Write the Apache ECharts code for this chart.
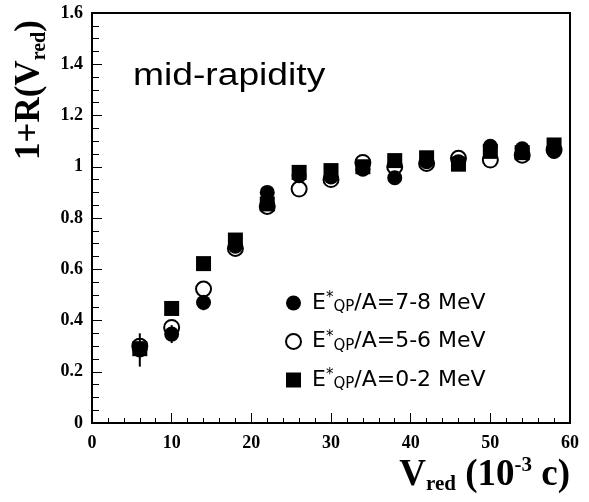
<!DOCTYPE html>
<html>
<head>
<meta charset="utf-8">
<script src="https://cdn.jsdelivr.net/npm/echarts@6/dist/echarts.min.js"></script>
<style>html,body{margin:0;padding:0;background:#fff}#c{width:589px;height:502px}</style>
</head>
<body>
<div id="c"></div>
<script>
// Data
const vred = [6, 10, 14, 18, 22, 26, 30, 34, 38, 42, 46, 50, 54, 58];
const names = ['E*QP/A=7-8 MeV', 'E*QP/A=5-6 MeV', 'E*QP/A=0-2 MeV'];
const e78 = [0.285, 0.347, 0.47, 0.69, 0.90, 0.965, 0.96, 0.99, 0.957, 1.02, 1.02, 1.08, 1.07, 1.06];
const e78err = [0.065, 0.035, 0.03, 0.02, 0.02, 0.02, 0.02, 0.02, 0.02, 0.02, 0.02, 0.02, 0.02, 0.02];
const e56 = [0.30, 0.373, 0.523, 0.681, 0.845, 0.913, 0.95, 1.017, 1.0, 1.013, 1.033, 1.026, 1.045, 1.065];
const e02 = [0.29, 0.447, 0.622, 0.714, 0.855, 0.978, 0.985, 1.0, 1.024, 1.035, 1.01, 1.06, 1.055, 1.085];
const xTicks = [0, 10, 20, 30, 40, 50, 60];
const yTicks = [0, 0.2, 0.4, 0.6, 0.8, 1, 1.2, 1.4, 1.6];

const pairs = a => vred.map((x, i) => [x, a[i]]);
const errData = vred.map((x, i) => [x, e78[i] - e78err[i], e78[i] + e78err[i]]);

const serif = 'Liberation Serif';
const sans = 'Liberation Sans';
const lsans = 'DejaVu Sans';

const chart = echarts.init(document.getElementById('c'), null, {renderer: 'canvas'});
const legendRich = {
  e: {fontFamily: lsans, fontSize: 22, color: '#000', lineHeight: 24},
  sup: {fontFamily: lsans, fontSize: 15, color: '#000', verticalAlign: 'top', lineHeight: 24, padding: [0, 0, 8, 0]},
  sub: {fontFamily: lsans, fontSize: 15, color: '#000', verticalAlign: 'bottom', lineHeight: 24, padding: [12, 0, 0, 0]},
  n: {fontFamily: lsans, fontSize: 22, color: '#000', lineHeight: 24}
};
chart.setOption({
  animation: false,
  backgroundColor: '#fff',
  grid: {left: 92, right: 19, top: 13, bottom: 79, show: true, borderColor: '#000', borderWidth: 2, backgroundColor: 'transparent'},
  xAxis: {
    type: 'value', min: xTicks[0], max: xTicks[xTicks.length - 1], interval: 10,
    axisLine: {show: true, onZero: false, lineStyle: {color: '#000', width: 2}},
    axisTick: {show: true, inside: true, length: 10, lineStyle: {color: '#000', width: 1}},
    minorTick: {show: true, splitNumber: 5, length: 5, lineStyle: {color: '#000', width: 1}},
    splitLine: {show: false},
    axisLabel: {margin: 11, color: '#000', fontFamily: serif, fontWeight: 'bold', fontSize: 18}
  },
  yAxis: {
    type: 'value', min: yTicks[0], max: yTicks[yTicks.length - 1], interval: 0.2,
    axisLine: {show: true, onZero: false, lineStyle: {color: '#000', width: 2}},
    axisTick: {show: true, inside: true, length: 10, lineStyle: {color: '#000', width: 1}},
    minorTick: {show: true, splitNumber: 4, length: 7, lineStyle: {color: '#000', width: 1}},
    splitLine: {show: false},
    axisLabel: {margin: 9, color: '#000', fontFamily: serif, fontWeight: 'bold', fontSize: 18}
  },
  legend: {
    orient: 'vertical', left: 280, top: 283,
    itemWidth: 15, itemHeight: 15, itemGap: 11.5,
    data: [names[0], names[1], names[2]],
    formatter: function (name) {
      const rest = name.slice(4);
      return '{e|E}{sup|*}{sub|QP}{n|' + rest + '}';
    },
    textStyle: {rich: legendRich, padding: [0, 0, 0, 6]}
  },
  series: [
    {
      name: names[1], type: 'scatter', symbol: 'circle', symbolSize: 15, z: 2,
      itemStyle: {color: '#fff', borderColor: '#000', borderWidth: 2, opacity: 1},
      data: pairs(e56)
    },
    {
      name: 'err', type: 'custom', z: 3,
      renderItem: function (params, api) {
        const p1 = api.coord([api.value(0), api.value(1)]);
        const p2 = api.coord([api.value(0), api.value(2)]);
        return {type: 'line', shape: {x1: p1[0], y1: p1[1], x2: p2[0], y2: p2[1]}, style: {stroke: '#000', lineWidth: 2}};
      },
      encode: {x: 0, y: [1, 2]},
      data: errData
    },
    {
      name: names[0], type: 'scatter', symbol: 'circle', symbolSize: 15, z: 4,
      itemStyle: {color: '#000', opacity: 1},
      data: pairs(e78)
    },
    {
      name: names[2], type: 'scatter', symbol: 'rect', symbolSize: 15, z: 5,
      itemStyle: {color: '#000', opacity: 1},
      data: pairs(e02)
    }
  ],
  graphic: [
    {
      type: 'text', left: 133, top: 61, scaleX: 1.2,
      style: {text: 'mid-rapidity', fontFamily: sans, fontSize: 31, fill: '#000'}
    },
    {
      type: 'text', x: 30, y: 160, rotation: Math.PI / 2,
      style: {
        text: '{m|1+R(V}{s|red}{m|)}',
        textAlign: 'left', textVerticalAlign: 'middle',
        rich: {
          m: {fontFamily: serif, fontWeight: 'bold', fontSize: 35, fill: '#000', lineHeight: 40},
          s: {fontFamily: serif, fontWeight: 'bold', fontSize: 20, fill: '#000', verticalAlign: 'bottom', lineHeight: 40, padding: [14, 0, 0, 0]}
        }
      }
    },
    {
      type: 'text', right: 19, top: 455,
      style: {
        text: '{m|V}{s|red}{m| (10}{p|-3}{m| c)}',
        rich: {
          m: {fontFamily: serif, fontWeight: 'bold', fontSize: 37, fill: '#000', lineHeight: 40},
          s: {fontFamily: serif, fontWeight: 'bold', fontSize: 21, fill: '#000', verticalAlign: 'bottom', lineHeight: 40, padding: [15, 0, 0, 0]},
          p: {fontFamily: serif, fontWeight: 'bold', fontSize: 21, fill: '#000', verticalAlign: 'top', lineHeight: 40, padding: [0, 0, 14, 0]}
        }
      }
    }
  ]
});
</script>
</body>
</html>
